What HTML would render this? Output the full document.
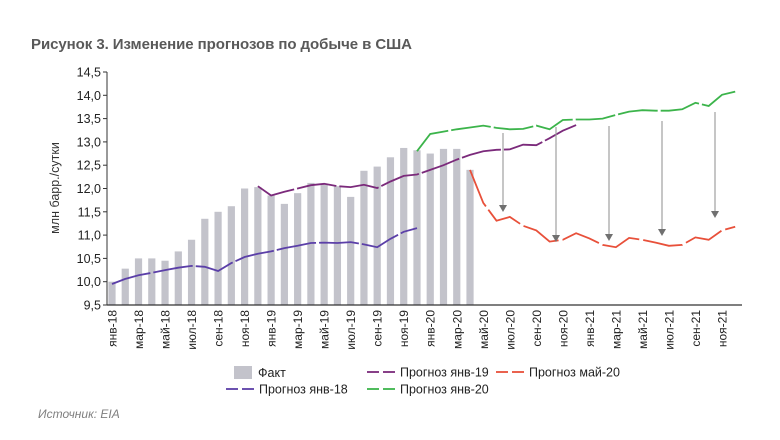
<!DOCTYPE html>
<html><head><meta charset="utf-8"><style>
body{margin:0;background:#fff;width:780px;height:440px;overflow:hidden;font-family:"Liberation Sans",sans-serif;}
svg{position:absolute;left:0;top:0}
</style></head><body>
<svg id="s" width="780" height="440" xmlns="http://www.w3.org/2000/svg" font-family="Liberation Sans, sans-serif">
<text x="31" y="49" font-size="15" font-weight="bold" fill="#595959" textLength="381">Рисунок 3. Изменение прогнозов по добыче в США</text>
<text x="38" y="418" font-size="12" font-style="italic" fill="#7f7f7f">Источник: EIA</text>
<text transform="translate(59,188) rotate(-90)" text-anchor="middle" font-size="12.5" fill="#333">млн барр./сутки</text>
<g id="g"></g>
</svg>
<script>
const g=document.getElementById('g');
const X=i=>112+13.26*i, Y=v=>305-(v-9.5)*46.6;
let h='';
const bars=[10.0,10.28,10.5,10.5,10.45,10.65,10.9,11.35,11.5,11.62,12.0,12.03,11.85,11.67,11.9,12.12,12.1,12.05,11.82,12.38,12.47,12.67,12.87,12.82,12.75,12.85,12.85,12.4];
bars.forEach((v,i)=>{h+=`<rect x="${X(i)-3.6}" y="${Y(v)}" width="7.2" height="${305-Y(v)}" fill="#c3c3cb"/>`;});
h+=`<line x1="107" y1="72" x2="107" y2="305" stroke="#333" stroke-width="1"/>`;
for(let k=0;k<=10;k++){const v=9.5+k*0.5,y=Y(v);h+=`<line x1="103" y1="${y}" x2="107" y2="${y}" stroke="#333"/>`;
h+=`<text x="101" y="${y+4.5}" text-anchor="end" font-size="12.5" fill="#222">${v.toFixed(1).replace('.',',')}</text>`;}
h+=`<line x1="107" y1="305" x2="742" y2="305" stroke="#333" stroke-width="1.2"/>`;
const mon=['янв','мар','май','июл','сен','ноя'];
for(let i=0;i<48;i+=2){const yr=18+Math.floor(i/12);const lab=mon[(i%12)/2]+'-'+yr;
h+=`<text transform="translate(${X(i)+4.5},310) rotate(-90)" text-anchor="end" font-size="12" fill="#222">${lab}</text>`;}
function line(start,vals,col,dash){const p=vals.map((v,j)=>X(start+j).toFixed(1)+','+Y(v).toFixed(1)).join(' ');
h+=`<polyline points="${p}" fill="none" stroke="${col}" stroke-width="1.8" ${dash?'stroke-dasharray="'+dash+'"':''}/>`;}
line(0,[9.95,10.06,10.14,10.19,10.25,10.3,10.34,10.32,10.23,10.4,10.53,10.6,10.65,10.72,10.77,10.83,10.84,10.83,10.85,10.8,10.74,10.92,11.07,11.15],'#5b3fa8','40,3');
line(11,[12.05,11.85,11.93,12.0,12.07,12.1,12.05,12.03,12.08,12.01,12.15,12.27,12.3,12.4,12.5,12.62,12.72,12.8,12.83,12.84,12.94,12.93,13.08,13.24,13.36],'#7b2a7b','40,3');
line(23,[12.8,13.17,13.22,13.27,13.31,13.35,13.3,13.27,13.28,13.35,13.27,13.47,13.48,13.48,13.5,13.58,13.65,13.68,13.67,13.67,13.7,13.84,13.77,14.01,14.08],'#3cb44b','40,3');
line(27,[12.4,11.69,11.31,11.39,11.2,11.1,10.86,10.9,11.04,10.93,10.79,10.74,10.94,10.9,10.84,10.77,10.79,10.95,10.9,11.1,11.18],'#e8503a','40,4');
[[503,133,212],[556,127,242],[609,126,241],[662,121,236],[715,112,218]].forEach(([x,a,b])=>{
h+=`<line x1="${x}" y1="${a}" x2="${x}" y2="${b-6}" stroke="#a0a0a0" stroke-width="1.2"/><polygon points="${x-4},${b-7} ${x+4},${b-7} ${x},${b}" fill="#707070"/>`;});
h+=`<rect x="234" y="366" width="18" height="13" fill="#c3c3cb"/><text x="258" y="377" font-size="12.5" fill="#222">Факт</text>`;
function leg(x,y,col,t){h+=`<line x1="${x}" y1="${y}" x2="${x+12}" y2="${y}" stroke="${col}" stroke-width="1.8"/><line x1="${x+16}" y1="${y}" x2="${x+28}" y2="${y}" stroke="${col}" stroke-width="1.8"/><text x="${x+33}" y="${y+4.5}" font-size="12.5" fill="#222">${t}</text>`;}
leg(367,372,'#7b2a7b','Прогноз янв-19');leg(496,372,'#e8503a','Прогноз май-20');
leg(226,389,'#5b3fa8','Прогноз янв-18');leg(367,389,'#3cb44b','Прогноз янв-20');
g.innerHTML=h;
</script>
</body></html>
